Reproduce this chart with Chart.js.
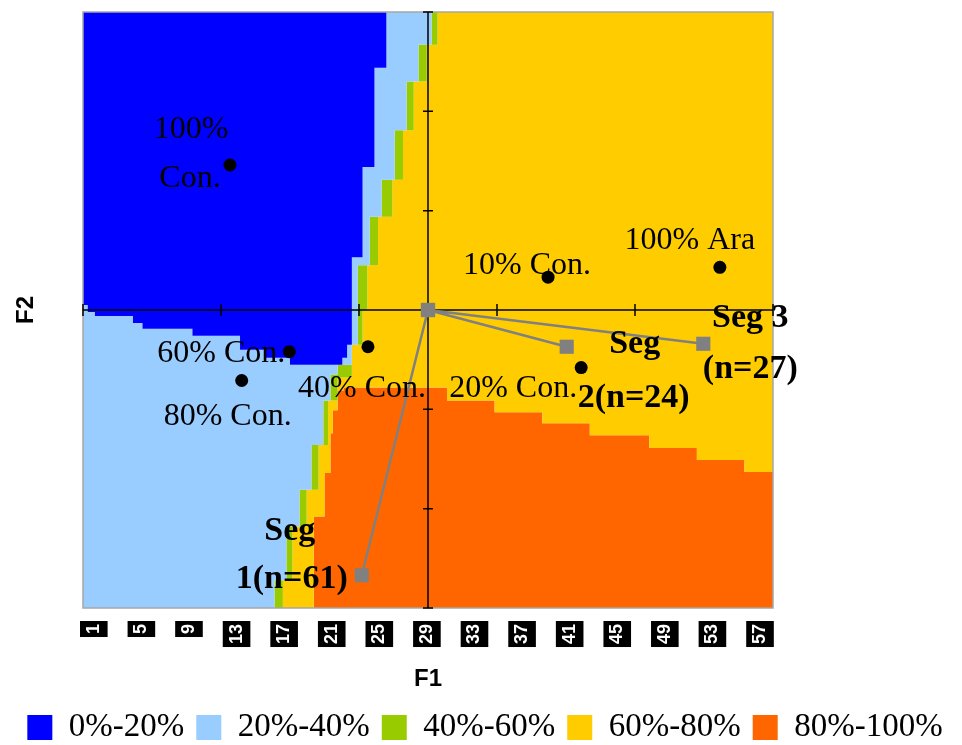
<!DOCTYPE html>
<html>
<head>
<meta charset="utf-8">
<title>F1 / F2 map</title>
<script src="https://cdn.jsdelivr.net/npm/chart.js@4.4.1/dist/chart.umd.min.js"></script>
<style>
  body { margin: 0; background: #fff; }
  canvas { display: block; }
</style>
</head>
<body>
<canvas id="myChart" width="962" height="745"></canvas>
<script>
'use strict';

// colour bands of the map
const bandNames = ['0%-20%', '20%-40%', '40%-60%', '60%-80%', '80%-100%'];
const bandColors = ['#0000ff', '#99ccff', '#99cc00', '#ffcc00', '#ff6600'];

// band edges: grid position (1..59) where the edge steps, and F2 level from there on
// bottom of the 0%-20% zone
const blueEdgeX = [1, 1.4, 2, 5.2, 6, 10.2, 14.2, 16.3, 18.4, 22.8, 23.2, 23.6, 24.5, 25.5, 26.5, 59];
const blueEdgeY = [0.05, -0.02, -0.06, -0.13, -0.19, -0.26, -0.40, -0.48, -0.55, -0.48, -0.35, 0.53, 1.44, 2.44, 3, 3];
// top of the 40%-60% zone
const greenEdgeX = [1, 17.1, 18.1, 19.2, 20.2, 21.2, 21.8, 22.4, 23.6, 24.1, 25.1, 26.1, 27.2, 28.2, 29.2, 30.3, 59];
const greenEdgeY = [-3, -2.72, -2.18, -1.81, -1.36, -0.91, -0.65, -0.55, -0.35, 0.45, 0.94, 1.31, 1.81, 2.30, 2.67, 3, 3];
// top of the 60%-80% zone
const yellowEdgeX = [1, 17.8, 18.6, 19.8, 20.8, 21.6, 22.4, 23.6, 24.5, 24.9, 25.8, 27.0, 27.9, 28.8, 29.9, 30.8, 59];
const yellowEdgeY = [-3, -2.72, -2.18, -1.81, -1.36, -0.91, -0.68, -0.35, 0, 0.45, 0.94, 1.31, 1.81, 2.30, 2.67, 3, 3];
// top of the 80%-100% zone
const orangeEdgeX = [1, 20.4, 21.3, 21.8, 22.0, 22.4, 22.9, 31.6, 35.6, 39.6, 43.6, 48.6, 52.6, 56.6, 59];
const orangeEdgeY = [-3, -2.08, -1.64, -1.24, -1.01, -0.81, -0.78, -0.91, -1.03, -1.14, -1.26, -1.39, -1.51, -1.63, -1.63];

// points on the F1/F2 plane
const pointNames = [['100%', 'Con.'], ['100% Ara'], ['10% Con.'], ['60% Con.'], ['80% Con.'], ['40% Con.'], ['20% Con.']];
const pointF1 = [-2.87, 4.23, 1.74, -2.01, -2.70, -0.87, 2.22];
const pointF2 = [1.46, 0.43, 0.33, -0.42, -0.71, -0.37, -0.58];

const segNames = [['Seg', '1(n=61)'], ['Seg', '2(n=24)'], ['Seg 3', '(n=27)']];
const segF1 = [-0.96, 2.01, 3.99];
const segF2 = [-2.67, -0.37, -0.34];

// axis ticks
const xTickLabels = [1, 5, 9, 13, 17, 21, 25, 29, 33, 37, 41, 45, 49, 53, 57];
const f1Ticks = [-5, -3, -1, 1, 3, 5];
const f2Ticks = [-3, -2, -1, 1, 2, 3];

const serif = '"Liberation Serif", "Times New Roman", serif';
const sans = '"Liberation Sans", Arial, sans-serif';

// label placement, pixels from the marker
const pointLabelOffsets = [[[-39, -27], [-40, 22]], [[-30, -18]], [[-21, -3]], [[-68, 10]], [[-14, 44]], [[-6, 50]], [[-68, 29]]];
const segLabelOffsets = [[[-72, -35], [-70, 13]], [[68, 6], [67, 60]], [[47, -17], [47, 34]]];

function stepLine(xs, ys) {
    const pts = [];
    for (let i = 0; i < xs.length - 1; i++) {
        pts.push({x: xs[i], y: ys[i]});
        pts.push({x: xs[i + 1], y: ys[i]});
    }
    return pts;
}

const bandEdges = [
    stepLine(blueEdgeX, blueEdgeY),
    stepLine(greenEdgeX, greenEdgeY),
    stepLine(yellowEdgeX, yellowEdgeY),
    stepLine(orangeEdgeX, orangeEdgeY),
    stepLine(orangeEdgeX, orangeEdgeY)
];
const bandFill = ['end', '-1', '-1', '-1', 'start'];

const datasets = bandNames.map((name, i) => ({
    type: 'line',
    label: name,
    data: bandEdges[i],
    xAxisID: 'x',
    yAxisID: 'y',
    backgroundColor: bandColors[i],
    borderColor: bandColors[i],
    borderWidth: 0,
    pointRadius: 0,
    pointHoverRadius: 0,
    fill: bandFill[i],
    order: 2
}));

let segPoints = [];
for (let i = 0; i < segF1.length; i++) {
    segPoints.push({x: 0, y: 0});
    segPoints.push({x: segF1[i], y: segF2[i]});
}
datasets.push({
    type: 'line',
    label: 'segments',
    data: segPoints,
    xAxisID: 'x2',
    yAxisID: 'y',
    borderColor: '#808080',
    borderWidth: 2.5,
    pointStyle: 'rect',
    pointRadius: 10,
    pointBackgroundColor: '#808080',
    pointBorderWidth: 0,
    fill: false,
    order: 1
});

datasets.push({
    type: 'scatter',
    label: 'points',
    data: pointF1.map((x, i) => ({x: x, y: pointF2[i]})),
    xAxisID: 'x2',
    yAxisID: 'y',
    backgroundColor: '#000',
    pointRadius: 6.5,
    borderWidth: 0,
    order: 0
});

const mapDecor = {
    id: 'mapDecor',
    afterDatasetDraw(chart, args) {
        if (args.index !== 0) return; // blue band is the last band painted
        const {ctx, chartArea: a, scales} = chart;
        const x0 = scales.x2.getPixelForValue(0);
        const y0 = scales.y.getPixelForValue(0);
        ctx.save();
        ctx.strokeStyle = '#a6a6a6';
        ctx.lineWidth = 1.5;
        ctx.strokeRect(a.left, a.top, a.right - a.left, a.bottom - a.top);
        ctx.strokeStyle = '#000';
        ctx.lineWidth = 1.5;
        ctx.beginPath();
        ctx.moveTo(a.left, y0);
        ctx.lineTo(a.right, y0);
        ctx.moveTo(x0, a.top);
        ctx.lineTo(x0, a.bottom);
        f1Ticks.forEach(v => {
            const px = scales.x2.getPixelForValue(v);
            ctx.moveTo(px, y0 - 6);
            ctx.lineTo(px, y0 + 6);
        });
        f2Ticks.forEach(v => {
            const py = scales.y.getPixelForValue(v);
            ctx.moveTo(x0 - 5, py);
            ctx.lineTo(x0 + 5, py);
        });
        ctx.stroke();
        ctx.restore();
    },
    afterDatasetsDraw(chart) {
        const {ctx, scales} = chart;
        ctx.save();
        ctx.fillStyle = '#000';
        ctx.textAlign = 'center';
        ctx.textBaseline = 'alphabetic';
        ctx.font = '32px ' + serif;
        pointNames.forEach((lines, i) => {
            const px = scales.x2.getPixelForValue(pointF1[i]);
            const py = scales.y.getPixelForValue(pointF2[i]);
            lines.forEach((t, j) => {
                ctx.fillText(t, px + pointLabelOffsets[i][j][0], py + pointLabelOffsets[i][j][1]);
            });
        });
        ctx.font = 'bold 34px ' + serif;
        segNames.forEach((lines, i) => {
            const px = scales.x2.getPixelForValue(segF1[i]);
            const py = scales.y.getPixelForValue(segF2[i]);
            lines.forEach((t, j) => {
                ctx.fillText(t, px + segLabelOffsets[i][j][0], py + segLabelOffsets[i][j][1]);
            });
        });
        ctx.restore();
    }
};

const config = {
    type: 'line',
    data: { datasets: datasets },
    options: {
        responsive: false,
        animation: false,
        events: [],
        layout: { padding: { left: 8, top: 12, right: 0, bottom: 0 } },
        scales: {
            x: {
                type: 'linear',
                position: 'bottom',
                min: 1,
                max: 59,
                afterBuildTicks: s => { s.ticks = xTickLabels.map(v => ({value: v})); },
                afterFit: s => { s.height = 91; },
                grid: { display: false, drawTicks: false },
                border: { display: false },
                ticks: {
                    autoSkip: false,
                    minRotation: 90,
                    maxRotation: 90,
                    padding: 16,
                    color: '#fff',
                    font: { family: sans, size: 18, weight: 'bold' },
                    showLabelBackdrop: true,
                    backdropColor: '#000',
                    backdropPadding: 3
                },
                title: {
                    display: true,
                    text: 'F1',
                    color: '#000',
                    font: { family: sans, size: 24, weight: 'bold' },
                    padding: { top: 4, bottom: 5 }
                }
            },
            x2: { type: 'linear', min: -5, max: 5, display: false },
            y: {
                type: 'linear',
                position: 'left',
                min: -3,
                max: 3,
                afterFit: s => { s.width = 75; },
                grid: { display: false, drawTicks: false },
                border: { display: false },
                ticks: { display: false },
                title: {
                    display: true,
                    text: 'F2',
                    color: '#000',
                    font: { family: sans, size: 24, weight: 'bold' },
                    padding: { top: 4, bottom: 4 }
                }
            },
            yr: {
                type: 'linear',
                position: 'right',
                afterFit: s => { s.width = 189; },
                grid: { display: false, drawTicks: false },
                border: { display: false },
                ticks: { display: false }
            }
        },
        plugins: {
            tooltip: { enabled: false },
            legend: {
                position: 'bottom',
                maxHeight: 46,
                labels: {
                    boxWidth: 25,
                    boxHeight: 25,
                    padding: 12,
                    color: '#000',
                    font: { family: serif, size: 33 },
                    filter: item => item.datasetIndex < 5
                }
            }
        }
    },
    plugins: [mapDecor]
};

const canvasChart = document.getElementById('myChart');
const myChart = new Chart(canvasChart, config);
</script>
</body>
</html>
